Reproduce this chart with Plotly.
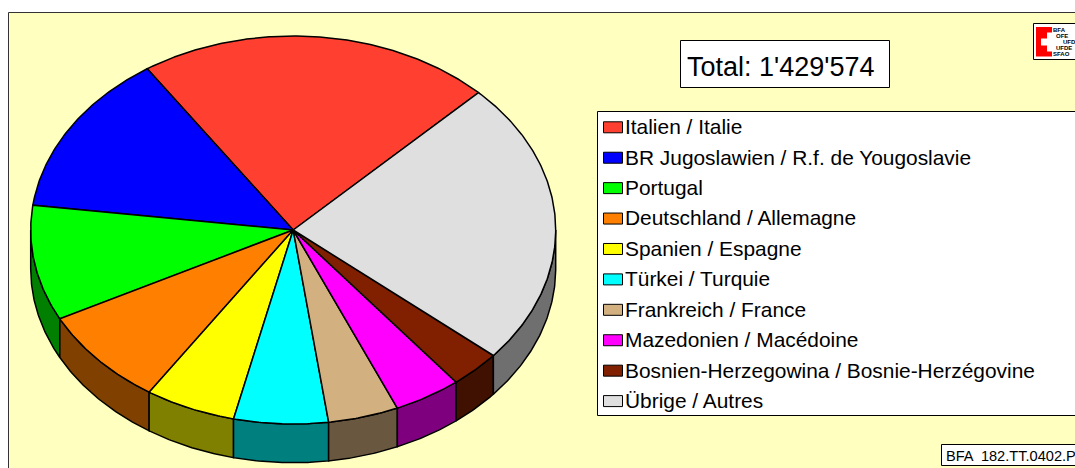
import math
import plotly.graph_objects as go

categories = ["Italien / Italie", "BR Jugoslawien / R.f. de Yougoslavie", "Portugal",
              "Deutschland / Allemagne", "Spanien / Espagne", "Türkei / Turquie",
              "Frankreich / France", "Mazedonien / Macédoine",
              "Bosnien-Herzegowina / Bosnie-Herzégovine", "Übrige / Autres"]
values = [312500, 194000, 137400, 117000, 80000, 83000, 62000, 59500, 45000, 339174]
colors = ["#FF4030", "#0000FF", "#00FF00", "#FF8000", "#FFFF00", "#00FFFF",
          "#D2B07F", "#FF00FF", "#802000", "#DFDFDF"]
total_label = "Total: 1'429'574"
source_label = "BFA  182.TT.0402.P"
logo_lines = ["BFA", "OFE", "UFDS", "UFDE", "SFAO"]

W, H = 1075, 468
CX, CY, RX, RY, DEPTH = 293.2, 230.0, 262.5, 194.0, 38.7
START = 44.9
BG = "#FFFFC0"


def pt(deg, dy=0.0):
    a = math.radians(deg)
    return CX + RX * math.sin(a), CY - RY * math.cos(a) + dy


def arc(a0, a1, dy=0.0):
    n = max(2, int(abs(a1 - a0) * 2))
    return [pt(a0 + (a1 - a0) * i / n, dy) for i in range(n + 1)]


def darker(c):
    return "#%02X%02X%02X" % tuple(int(c[i:i + 2], 16) // 2 for i in (1, 3, 5))


fig = go.Figure()
total = sum(values)
bounds = [START]
for v in values:
    bounds.append(bounds[-1] - 360.0 * v / total)

# side walls: the part of every slice on the near half of the ellipse
for i, c in enumerate(colors):
    a1, a0 = bounds[i], bounds[i + 1]
    for k in (-1, 0):
        lo = max(a0, 90 + 360 * k)
        hi = min(a1, 270 + 360 * k)
        if hi > lo:
            p = arc(lo, hi) + arc(hi, lo, DEPTH)
            p.append(p[0])
            fig.add_trace(go.Scatter(x=[q[0] for q in p], y=[q[1] for q in p], mode="lines",
                                     fill="toself", fillcolor=darker(c),
                                     line=dict(color="black", width=1.5),
                                     hoverinfo="skip", showlegend=False))

# top faces
for i, c in enumerate(colors):
    p = [(CX, CY)] + arc(bounds[i], bounds[i + 1]) + [(CX, CY)]
    fig.add_trace(go.Scatter(x=[q[0] for q in p], y=[q[1] for q in p], mode="lines",
                             fill="toself", fillcolor=c, name=categories[i],
                             line=dict(color="black", width=1.5),
                             hoverinfo="name", showlegend=False))

FONT = "Liberation Sans, Arial, sans-serif"
shapes = [
    dict(type="rect", x0=8.5, y0=12.5, x1=W + 20, y1=H + 20, fillcolor=BG, layer="below",
         line=dict(color="#333333", width=1)),
    dict(type="rect", x0=680.5, y0=40.5, x1=889.5, y1=87.5, fillcolor="white", line=dict(color="black", width=1)),
    dict(type="rect", x0=597.5, y0=111.5, x1=W + 20, y1=415.5, fillcolor="white", line=dict(color="black", width=1)),
    dict(type="rect", x0=941.5, y0=444.5, x1=W + 20, y1=465.5, fillcolor="white", line=dict(color="black", width=1)),
    dict(type="rect", x0=1033.5, y0=23.5, x1=W + 20, y1=59.5, fillcolor="white", line=dict(color="black", width=1)),
    dict(type="rect", x0=1036, y0=27, x1=1052, y1=56.5, fillcolor="#FF0000", line=dict(width=0)),
    dict(type="rect", x0=1041, y0=38.5, x1=1052, y1=45.5, fillcolor="white", line=dict(width=0)),
    dict(type="rect", x0=1047, y0=32.5, x1=1052, y1=51.5, fillcolor="white", line=dict(width=0)),
]
annotations = [
    dict(x=685, y=67, text=total_label, showarrow=False, xanchor="left", yanchor="middle",
         font=dict(family=FONT, size=27, color="black")),
    dict(x=944, y=456, text=source_label, showarrow=False, xanchor="left", yanchor="middle",
         font=dict(family=FONT, size=14.6, color="black")),
]
ROW0, ROWSTEP = 127.3, 30.42
for i, (name, c) in enumerate(zip(categories, colors)):
    y = ROW0 + ROWSTEP * i
    shapes.append(dict(type="rect", x0=603.5, x1=622.5, y0=y - 5.5, y1=y + 5.5, fillcolor=c,
                       line=dict(color="black", width=1)))
    annotations.append(dict(x=623, y=y - 0.6, text=name, showarrow=False, xanchor="left", yanchor="middle",
                            font=dict(family=FONT, size=20.9, color="black")))
for name, x, y in zip(logo_lines, [1052, 1055, 1062, 1055, 1052], [29.5, 35.5, 41.5, 47.5, 53.5]):
    annotations.append(dict(x=x, y=y, text="<b>%s</b>" % name, showarrow=False, xanchor="left", yanchor="middle",
                            font=dict(family=FONT, size=6, color="black"),
                            borderpad=0))

fig.update_layout(
    width=W, height=H, margin=dict(l=0, r=0, t=0, b=0), paper_bgcolor="white", plot_bgcolor="white",
    xaxis=dict(range=[0, W], visible=False, fixedrange=True),
    yaxis=dict(range=[H, 0], visible=False, fixedrange=True),
    shapes=shapes, annotations=annotations, showlegend=False,
)
fig.write_html("out.html", config={"displayModeBar": False},
               post_script="document.body.style.margin='0';document.documentElement.style.overflow='hidden';")
